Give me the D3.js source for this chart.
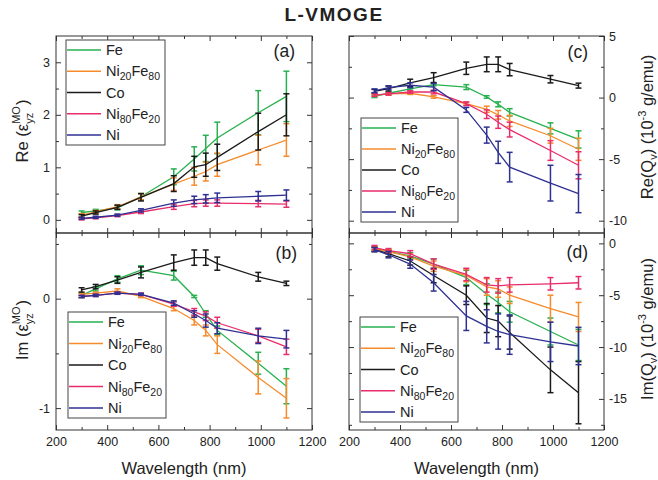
<!DOCTYPE html>
<html>
<head>
<meta charset="utf-8">
<script src="https://cdn.jsdelivr.net/npm/d3@7"></script>
<style>
  html, body { margin: 0; padding: 0; background: #fff; }
  svg { display: block; font-family: "Liberation Sans", Arial, Helvetica, sans-serif; }
</style>
</head>
<body>
<svg id="chart" width="658" height="480"></svg>
<script>
// Wavelengths of the measurement (nm)
const wavelengths = [300, 355, 440, 532, 660, 740, 785, 830, 990, 1100];

// Materials, in legend order
const materials = ["Fe", "Ni20Fe80", "Co", "Ni80Fe20", "Ni"];
const materialColors = ["#27b14f", "#f68b2c", "#1a1a1a", "#e82d6a", "#2e3192"];

// (a) Re(eps_yz^MO)
const reEpsValues = [
  [0.14, 0.17, 0.23, 0.44, 0.82, 1.16, 1.36, 1.56, 2.04, 2.35],
  [0.09, 0.15, 0.25, 0.44, 0.68, 0.83, 0.92, 1.05, 1.33, 1.52],
  [0.07, 0.14, 0.24, 0.43, 0.69, 1.01, 1.05, 1.19, 1.68, 2.00],
  [0.02, 0.04, 0.08, 0.15, 0.25, 0.31, 0.32, 0.32, 0.31, 0.30],
  [0.03, 0.05, 0.09, 0.18, 0.32, 0.38, 0.40, 0.42, 0.45, 0.47]
];
const reEpsErrors = [
  [0.03, 0.03, 0.04, 0.06, 0.15, 0.23, 0.25, 0.30, 0.42, 0.48],
  [0.03, 0.03, 0.04, 0.06, 0.12, 0.17, 0.18, 0.22, 0.28, 0.31],
  [0.03, 0.03, 0.04, 0.07, 0.15, 0.20, 0.22, 0.25, 0.35, 0.40],
  [0.02, 0.02, 0.02, 0.03, 0.05, 0.06, 0.06, 0.06, 0.06, 0.06],
  [0.02, 0.02, 0.02, 0.03, 0.06, 0.07, 0.08, 0.09, 0.09, 0.10]
];

// (b) Im(eps_yz^MO)
const imEpsValues = [
  [0.03, 0.09, 0.18, 0.26, 0.21, 0.02, -0.14, -0.29, -0.59, -0.80],
  [0.04, 0.05, 0.07, 0.02, -0.09, -0.20, -0.29, -0.42, -0.72, -0.91],
  [0.08, 0.11, 0.17, 0.24, 0.33, 0.375, 0.375, 0.32, 0.20, 0.14],
  [0.02, 0.03, 0.05, 0.04, -0.05, -0.12, -0.16, -0.22, -0.34, -0.44],
  [0.02, 0.03, 0.05, 0.04, -0.04, -0.14, -0.20, -0.27, -0.34, -0.37]
];
const imEpsErrors = [
  [0.02, 0.02, 0.03, 0.04, 0.04, 0.01, 0.03, 0.04, 0.10, 0.16],
  [0.01, 0.01, 0.02, 0.01, 0.02, 0.04, 0.05, 0.08, 0.15, 0.18],
  [0.02, 0.02, 0.03, 0.05, 0.07, 0.07, 0.07, 0.06, 0.04, 0.02],
  [0.01, 0.01, 0.01, 0.01, 0.02, 0.03, 0.04, 0.05, 0.06, 0.07],
  [0.01, 0.01, 0.01, 0.01, 0.02, 0.03, 0.06, 0.05, 0.07, 0.08]
];

// (c) Re(Qv), 10^-3 g/emu
const reQValues = [
  [0.10, 0.35, 0.70, 1.05, 0.85, 0.05, -0.55, -1.20, -2.50, -3.40],
  [0.20, 0.30, 0.35, 0.05, -0.50, -0.95, -1.40, -1.90, -3.10, -4.20],
  [0.51, 0.73, 1.19, 1.62, 2.38, 2.70, 2.70, 2.27, 1.49, 0.97],
  [0.20, 0.30, 0.45, 0.45, -0.50, -1.35, -2.00, -2.60, -4.30, -5.50],
  [0.55, 0.80, 1.00, 0.85, -1.00, -3.05, -4.45, -5.65, -6.95, -7.80]
];
const reQErrors = [
  [0.10, 0.10, 0.10, 0.10, 0.20, 0.10, 0.20, 0.30, 0.45, 0.70],
  [0.10, 0.10, 0.10, 0.10, 0.10, 0.25, 0.35, 0.45, 0.60, 0.90],
  [0.15, 0.20, 0.30, 0.40, 0.50, 0.60, 0.60, 0.50, 0.30, 0.20],
  [0.10, 0.10, 0.10, 0.15, 0.15, 0.35, 0.50, 0.60, 0.80, 1.10],
  [0.15, 0.15, 0.20, 0.30, 0.20, 0.65, 0.90, 1.20, 1.45, 1.55]
];

// (d) Im(Qv), 10^-3 g/emu
const imQValues = [
  [-0.5, -0.8, -1.2, -2.0, -3.3, -4.9, -5.7, -6.6, -8.5, -9.8],
  [-0.5, -0.8, -1.3, -2.2, -3.1, -4.2, -4.4, -5.0, -6.3, -7.1],
  [-0.6, -1.0, -1.7, -3.1, -5.0, -7.2, -7.5, -8.6, -12.2, -14.4],
  [-0.4, -0.7, -1.0, -2.0, -3.0, -4.0, -4.1, -4.0, -3.9, -3.8],
  [-0.6, -1.1, -2.0, -3.8, -7.0, -8.0, -8.5, -8.8, -9.5, -9.9]
];
const imQErrors = [
  [0.2, 0.2, 0.3, 0.5, 0.7, 1.0, 1.0, 1.0, 1.3, 1.5],
  [0.2, 0.2, 0.3, 0.5, 0.6, 0.8, 0.8, 0.8, 1.3, 1.4],
  [0.2, 0.3, 0.4, 0.7, 0.9, 1.4, 1.5, 1.6, 2.2, 3.0],
  [0.2, 0.2, 0.3, 0.5, 0.6, 0.7, 0.7, 0.7, 0.6, 0.6],
  [0.2, 0.3, 0.4, 0.8, 1.4, 1.6, 1.7, 1.9, 1.9, 1.8]
];

// Axis ticks
const xMajorTicks = [200, 400, 600, 800, 1000, 1200];
const xMinorTicks = [300, 500, 700, 900, 1100];

const svg = d3.select("#chart");
const FRAME = "#333";

// Panel geometry
const cols = [[56, 312], [349, 604]];
const rows = [[36, 233], [233, 430]];

const panels = [
  { name: "(a)", col: 0, row: 0, values: reEpsValues, errors: reEpsErrors,
    domain: [-0.25, 3.5], major: [0, 1, 2, 3], minor: [0.5, 1.5, 2.5],
    legend: { x: 66, y: 40, w: 99, h: 105 }, labelPos: [295, 56.5] },
  { name: "(b)", col: 0, row: 1, values: imEpsValues, errors: imEpsErrors,
    domain: [-1.2, 0.6], major: [-1, 0], minor: [-0.5, 0.5],
    legend: { x: 68, y: 312, w: 98, h: 106 }, labelPos: [297, 259] },
  { name: "(c)", col: 1, row: 0, values: reQValues, errors: reQErrors,
    domain: [-11, 5], major: [-10, -5, 0, 5], minor: [-7.5, -2.5, 2.5],
    legend: { x: 361, y: 118, w: 97, h: 104 }, labelPos: [588, 58] },
  { name: "(d)", col: 1, row: 1, values: imQValues, errors: imQErrors,
    domain: [-18, 1], major: [-15, -10, -5, 0], minor: [-17.5, -12.5, -7.5, -2.5],
    legend: { x: 360, y: 317, w: 98, h: 105 }, labelPos: [588, 258] }
];

const fmt = d => (d < 0 ? "-" + Math.abs(d) : String(d));

panels.forEach(p => {
  const [x0, x1] = cols[p.col];
  const [y0, y1] = rows[p.row];
  const x = d3.scaleLinear().domain([200, 1200]).range([x0, x1]);
  const y = d3.scaleLinear().domain(p.domain).range([y1, y0]);
  const g = svg.append("g");

  // Inward ticks on all four sides
  const showX = p.row === 1;
  const addAxis = (axis, tr, labels) => {
    const a = g.append("g").attr("transform", tr).call(axis);
    a.select(".domain").remove();
    a.selectAll(".tick line").attr("stroke", FRAME);
    a.selectAll(".tick text").attr("fill", "#222").attr("font-size", 12.5)
      .attr("font-family", "Liberation Sans, Arial, sans-serif");
    if (!labels) a.selectAll(".tick text").remove();
    return a;
  };
  addAxis(d3.axisBottom(x).tickValues(xMajorTicks).tickSize(-5).tickPadding(7).tickFormat(d3.format("d")),
          `translate(0,${y1})`, showX);
  addAxis(d3.axisBottom(x).tickValues(xMinorTicks).tickSize(-3).tickFormat(""), `translate(0,${y1})`, false);
  addAxis(d3.axisTop(x).tickValues(xMajorTicks).tickSize(-5).tickFormat(""), `translate(0,${y0})`, false);
  addAxis(d3.axisTop(x).tickValues(xMinorTicks).tickSize(-3).tickFormat(""), `translate(0,${y0})`, false);

  const leftLabels = p.col === 0;
  addAxis(d3.axisLeft(y).tickValues(p.major).tickSize(-5).tickPadding(6).tickFormat(fmt),
          `translate(${x0},0)`, leftLabels);
  addAxis(d3.axisLeft(y).tickValues(p.minor).tickSize(-3).tickFormat(""), `translate(${x0},0)`, false);
  addAxis(d3.axisRight(y).tickValues(p.major).tickSize(-5).tickPadding(5).tickFormat(fmt),
          `translate(${x1},0)`, !leftLabels);
  addAxis(d3.axisRight(y).tickValues(p.minor).tickSize(-3).tickFormat(""), `translate(${x1},0)`, false);

  // Frame
  g.append("rect").attr("x", x0).attr("y", y0).attr("width", x1 - x0).attr("height", y1 - y0)
    .attr("fill", "none").attr("stroke", FRAME).attr("stroke-width", 1);

  // Series: lines and error bars
  const line = d3.line().x(d => x(d.w)).y(d => y(d.v));
  materials.forEach((m, i) => {
    const pts = wavelengths.map((w, k) => ({ w, v: p.values[i][k], e: p.errors[i][k] }));
    const color = materialColors[i];
    const s = g.append("g");
    s.append("path").datum(pts).attr("d", line).attr("fill", "none")
      .attr("stroke", color).attr("stroke-width", 1.3);
    const eb = s.selectAll(".eb").data(pts).join("g");
    eb.append("line").attr("x1", d => x(d.w)).attr("x2", d => x(d.w))
      .attr("y1", d => y(d.v - d.e)).attr("y2", d => y(d.v + d.e))
      .attr("stroke", color).attr("stroke-width", 1.5);
    [-1, 1].forEach(sg => {
      eb.append("line").attr("x1", d => x(d.w) - 3).attr("x2", d => x(d.w) + 3)
        .attr("y1", d => y(d.v + sg * d.e)).attr("y2", d => y(d.v + sg * d.e))
        .attr("stroke", color).attr("stroke-width", 1.5);
    });
  });

  // Panel letter
  g.append("text").attr("x", p.labelPos[0]).attr("y", p.labelPos[1])
    .attr("text-anchor", "end").attr("font-size", 17.5).attr("fill", "#222").text(p.name);

  // Legend
  const L = p.legend;
  const lg = g.append("g");
  lg.append("rect").attr("x", L.x).attr("y", L.y).attr("width", L.w).attr("height", L.h)
    .attr("fill", "#fff").attr("stroke", "#444").attr("stroke-width", 1);
  const step = (L.h - 20) / 4;
  materials.forEach((m, i) => {
    const cy = L.y + 10 + step * i;
    lg.append("line").attr("x1", L.x + 1).attr("x2", L.x + 35).attr("y1", cy).attr("y2", cy)
      .attr("stroke", materialColors[i]).attr("stroke-width", 1.5);
    const t = lg.append("text").attr("x", L.x + 40).attr("y", cy + 5)
      .attr("font-size", 14.5).attr("fill", "#222");
    const parts = m.match(/[A-Za-z]+|\d+/g);
    parts.forEach(part => {
      if (/^\d+$/.test(part)) {
        t.append("tspan").attr("font-size", 10.5).attr("dy", 4).text(part);
      } else {
        const ts = t.append("tspan").text(part);
        if (t.selectAll("tspan").size() > 1) ts.attr("dy", -4);
      }
    });
  });
});

// Title
svg.append("text").attr("x", 334).attr("y", 21).attr("text-anchor", "middle")
  .attr("font-size", 19).attr("font-weight", "bold").attr("letter-spacing", 1.5)
  .attr("fill", "#222").text("L-VMOGE");

// X axis titles
[0, 1].forEach(c => {
  svg.append("text").attr("x", (cols[c][0] + cols[c][1]) / 2).attr("y", 474)
    .attr("text-anchor", "middle").attr("font-size", 16.5).attr("fill", "#222")
    .text("Wavelength (nm)");
});

// Rotated label helper: builds tspans, then centres the whole text on (cx, cy)
function rotatedLabel(cx, cy, build) {
  const g = svg.append("g").attr("transform", `translate(${cx},${cy}) rotate(-90)`);
  const t = g.append("text").attr("font-size", 16.5).attr("fill", "#222");
  build(t);
  const bb = t.node().getBBox();
  t.attr("transform", `translate(${-bb.x - bb.width / 2},${-bb.y - bb.height / 2})`);
}

function epsBuild(prefix) {
  return t => {
    t.append("tspan").text(prefix + " (ε");
    const sub = t.append("tspan").attr("font-size", 11).attr("dy", 5).text("yz");
    const subW = sub.node().getComputedTextLength();
    const sup = t.append("tspan").attr("font-size", 11).attr("dy", -13).attr("dx", -subW).text("MO");
    const supW = sup.node().getComputedTextLength();
    t.append("tspan").attr("dy", 8).attr("dx", Math.max(0, subW - supW) + 1).text(")");
  };
}

function qBuild(prefix) {
  return t => {
    t.append("tspan").text(prefix + "(Q");
    t.append("tspan").attr("font-size", 11).attr("dy", 4).text("v");
    t.append("tspan").attr("dy", -4).text(") (10");
    t.append("tspan").attr("font-size", 11).attr("dy", -7).text("-3");
    t.append("tspan").attr("dy", 7).text(" g/emu)");
  };
}

rotatedLabel(22, 131, epsBuild("Re"));
rotatedLabel(22, 330, epsBuild("Im"));
rotatedLabel(647, 127, qBuild("Re"));
rotatedLabel(647, 329, qBuild("Im"));
</script>
</body>
</html>
